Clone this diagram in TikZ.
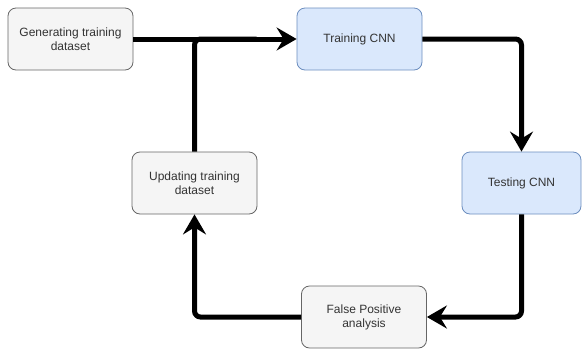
\documentclass[tikz,border=0pt]{standalone}
\usepackage{fontspec}
\setmainfont{Liberation Sans}
\usetikzlibrary{arrows.meta}
\definecolor{grayfill}{HTML}{F5F5F5}
\definecolor{graydraw}{HTML}{666666}
\definecolor{graytext}{HTML}{333333}
\definecolor{bluefill}{HTML}{DAE8FC}
\definecolor{bluedraw}{HTML}{6C8EBF}
\begin{document}
\begin{tikzpicture}[x=1pt,y=-1pt,
  box/.style={draw, rounded corners=8pt, minimum width=125pt, minimum height=62pt,
    align=center, font=\fontsize{12}{14}\selectfont, line width=0.8pt, inner sep=0pt},
  graybox/.style={box, fill=grayfill, draw=graydraw, text=graytext},
  bluebox/.style={box, fill=bluefill, draw=bluedraw, text=graytext},
  flowline/.style={line width=5pt, rounded corners=6pt},
  flow/.style={flowline, -{Stealth[length=20pt,width=23pt,inset=7pt]}}]
\useasboundingbox (0,0) rectangle (582,349);
\node[graybox] (gen) at (70.5,39) {Generating training\\dataset};
\node[bluebox] (train) at (359.5,39) {Training CNN};
\node[bluebox, minimum width=119pt] (test) at (521.5,183) {Testing CNN};
\node[graybox] (upd) at (194.5,183) {Updating training\\dataset};
\node[graybox] (fp) at (364,317) {False Positive\\analysis};
\coordinate (merge) at ([xshift=-40pt]train.west);
\draw[flow] (gen.east) -- (train.west);
\draw[flow] (train.east) -| (test.north);
\draw[flow] (test.south) |- (fp.east);
\draw[flow] (fp.west) -| (upd.south);
\draw[flowline] (upd.north) |- (merge);
\end{tikzpicture}
\end{document}
